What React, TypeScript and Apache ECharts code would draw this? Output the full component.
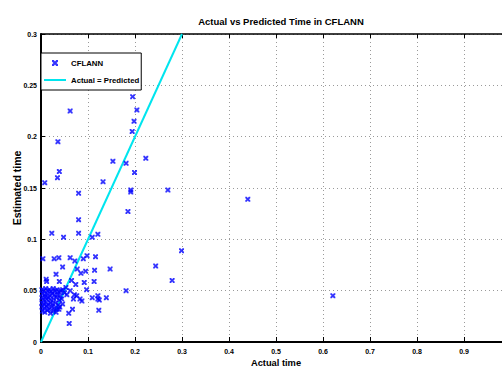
import React, { useEffect, useRef } from "react";
import * as echarts from "echarts";

const titleText = "Actual vs Predicted Time in CFLANN";
const xTicks = [0, 0.1, 0.2, 0.3, 0.4, 0.5, 0.6, 0.7, 0.8, 0.9];
const yTicks = [0, 0.05, 0.1, 0.15, 0.2, 0.25, 0.3];

// CFLANN points: [actual, estimated]
const sparsePoints: number[][] = [
  [0.062, 0.225], [0.195, 0.239], [0.204, 0.226], [0.198, 0.215], [0.194, 0.205],
  [0.036, 0.195], [0.223, 0.179], [0.153, 0.176], [0.181, 0.174], [0.039, 0.166],
  [0.199, 0.165], [0.035, 0.16], [0.008, 0.155], [0.132, 0.156], [0.191, 0.148],
  [0.191, 0.146], [0.27, 0.148], [0.08, 0.145], [0.185, 0.127], [0.08, 0.119],
  [0.023, 0.106], [0.08, 0.106], [0.121, 0.105], [0.048, 0.102], [0.109, 0.102],
  [0.004, 0.081], [0.028, 0.081], [0.038, 0.082], [0.062, 0.082], [0.072, 0.079],
  [0.098, 0.084], [0.09, 0.081], [0.116, 0.083], [0.046, 0.073], [0.077, 0.071],
  [0.085, 0.067], [0.095, 0.069], [0.114, 0.07], [0.147, 0.071], [0.244, 0.074],
  [0.299, 0.089], [0.279, 0.06], [0.092, 0.058], [0.113, 0.059], [0.065, 0.06],
  [0.011, 0.061], [0.012, 0.059], [0.032, 0.066], [0.039, 0.059], [0.181, 0.05],
  [0.097, 0.051], [0.053, 0.053], [0.109, 0.043], [0.121, 0.045], [0.121, 0.042],
  [0.124, 0.041], [0.139, 0.043], [0.123, 0.031], [0.06, 0.018], [0.067, 0.032],
  [0.059, 0.028], [0.038, 0.032], [0.069, 0.042], [0.071, 0.046], [0.062, 0.05],
  [0.055, 0.046], [0.076, 0.045], [0.083, 0.042], [0.087, 0.04], [0.074, 0.056],
  [0.44, 0.139], [0.621, 0.045],
];
const clusterPoints: number[][] = [
  [0.002, 0.051], [0.006, 0.05], [0.01, 0.052], [0.014, 0.05], [0.018, 0.051],
  [0.022, 0.049], [0.026, 0.052], [0.03, 0.05], [0.034, 0.051], [0.038, 0.049],
  [0.042, 0.05], [0.046, 0.051], [0.05, 0.048],
  [0.003, 0.047], [0.008, 0.046], [0.013, 0.047], [0.019, 0.045], [0.024, 0.047],
  [0.029, 0.046], [0.035, 0.046], [0.041, 0.045],
  [0.002, 0.043], [0.005, 0.041], [0.009, 0.044], [0.012, 0.042], [0.016, 0.043],
  [0.021, 0.041], [0.027, 0.042], [0.033, 0.043], [0.039, 0.041], [0.044, 0.042],
  [0.002, 0.038], [0.006, 0.037], [0.011, 0.039], [0.015, 0.036], [0.02, 0.038],
  [0.025, 0.037], [0.031, 0.038], [0.037, 0.036], [0.046, 0.037],
  [0.002, 0.034], [0.007, 0.033], [0.012, 0.035], [0.017, 0.032], [0.023, 0.034],
  [0.028, 0.033], [0.034, 0.032], [0.04, 0.034],
  [0.003, 0.03], [0.008, 0.029], [0.014, 0.031], [0.02, 0.028], [0.026, 0.03],
  [0.032, 0.029],
];
const idealLine: number[][] = [[0, 0], [0.3, 0.3]];

const xMark =
  "path://M0,0 L3,0 L5,2.6 L7,0 L10,0 L10,3 L7.4,5 L10,7 L10,10 L7,10 L5,7.4 L3,10 L0,10 L0,7 L2.6,5 L0,3 Z";

const FONT = "'Liberation Sans', Arial, Helvetica, sans-serif";

export default function App() {
  const ref = useRef<HTMLDivElement>(null);
  useEffect(() => {
    if (!ref.current) return;
    const chart = echarts.init(ref.current, undefined, { renderer: "svg" });
    const dotted = { show: true, lineStyle: { color: "#9a9a9a", type: [1, 3] as any, width: 1 } };
    const labelStyle = { color: "#000", fontSize: 7, fontWeight: "bold" as const, fontFamily: FONT };
    chart.setOption({
      animation: false,
      backgroundColor: "#fff",
      title: {
        text: titleText,
        left: 276,
        textAlign: "center",
        top: 11,
        textStyle: { fontSize: 9.5, fontWeight: "bold", color: "#000", fontFamily: FONT },
      },
      grid: { left: 41, right: -9, top: 34, bottom: 27, containLabel: false, outerBoundsMode: "none" },
      legend: {
        orient: "vertical",
        left: 41,
        top: 53,
        backgroundColor: "#fff",
        borderColor: "#000",
        borderWidth: 1,
        borderRadius: 0,
        padding: [6, 2, 6, 2],
        itemGap: 9,
        itemWidth: 22,
        itemHeight: 6,
        textStyle: { fontSize: 7.8, fontWeight: "bold", color: "#000", fontFamily: FONT },
        data: [
          { name: "CFLANN", icon: xMark, itemStyle: { color: "#0000ff" } },
          { name: "Actual = Predicted" },
        ],
      },
      xAxis: [
        {
          type: "value",
          min: 0,
          max: 1,
          interval: 0.1,
          position: "bottom",
          name: "Actual time",
          nameLocation: "middle",
          nameGap: 16,
          nameMoveOverlap: false,
          nameTextStyle: { fontSize: 9.3, fontWeight: "bold", color: "#000", fontFamily: FONT },
          axisLine: { show: true, lineStyle: { color: "#000", width: 2 } },
          axisTick: { show: true, inside: true, length: 5, lineStyle: { color: "#000" } },
          axisLabel: {
            ...labelStyle,
            margin: 6,
            formatter: (v: number) => {
              const r = Math.round(v * 10) / 10;
              return xTicks.includes(r) ? String(r) : "";
            },
          },
          splitLine: dotted,
        },
        {
          type: "value",
          min: 0,
          max: 1,
          interval: 0.1,
          position: "top",
          axisLine: { show: true, lineStyle: { color: "#000", width: 1.5 } },
          axisTick: { show: true, inside: true, length: 4, lineStyle: { color: "#000" } },
          axisLabel: { show: false },
          splitLine: { show: false },
        },
      ],
      yAxis: {
        type: "value",
        min: 0,
        max: 0.3,
        interval: 0.05,
        name: "Estimated time",
        nameLocation: "middle",
        nameGap: 19,
        nameMoveOverlap: false,
        nameTextStyle: { fontSize: 10.5, fontWeight: "bold", color: "#000", fontFamily: FONT },
        axisLine: { show: true, lineStyle: { color: "#000", width: 2 } },
        axisTick: { show: true, inside: true, length: 4, lineStyle: { color: "#000" } },
        axisLabel: {
          ...labelStyle,
          margin: 4,
          formatter: (v: number) => {
            const r = Math.round(v * 100) / 100;
            return yTicks.includes(r) ? String(r) : "";
          },
        },
        splitLine: dotted,
      },
      series: [
        {
          name: "CFLANN",
          type: "scatter",
          data: [...sparsePoints, ...clusterPoints],
          symbol: xMark,
          symbolSize: 5,
          itemStyle: { color: "#0000ff" },
          z: 3,
        },
        {
          name: "Actual = Predicted",
          type: "line",
          data: idealLine,
          symbol: "circle",
          showSymbol: false,
          lineStyle: { color: "#00e5ee", width: 2 },
          itemStyle: { color: "#00e5ee", opacity: 0 },
          z: 2,
        },
      ],
    });
    return () => chart.dispose();
  }, []);
  return (
    <div
      ref={ref}
      style={{ position: "fixed", left: 0, top: 0, width: 502, height: 369, background: "#fff" }}
    />
  );
}
